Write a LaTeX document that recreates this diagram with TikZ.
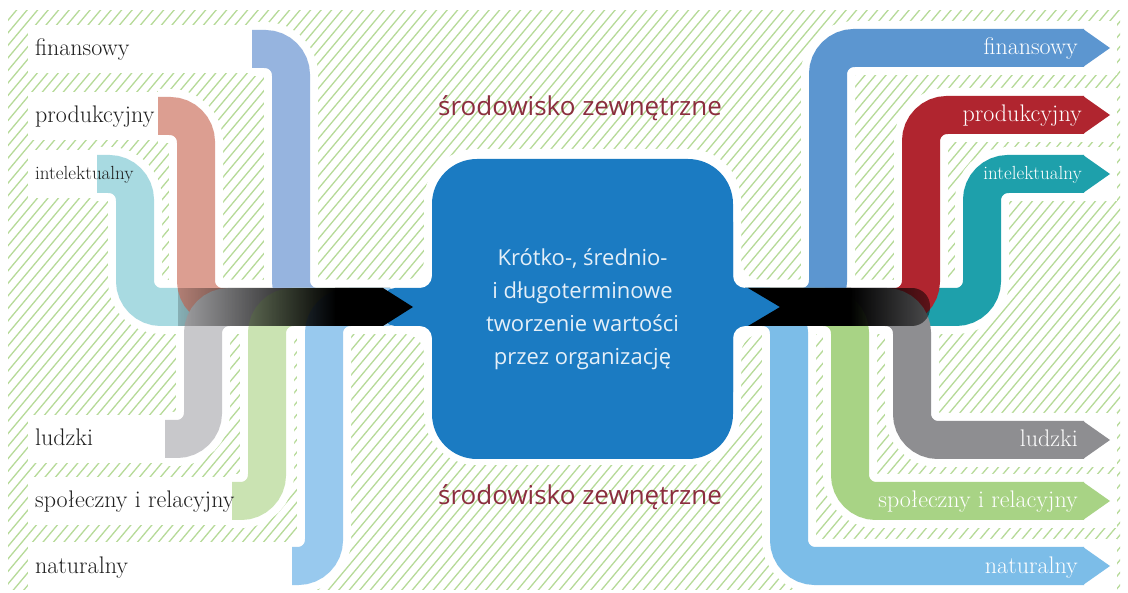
\documentclass[tikz,border=0pt]{standalone}
\usepackage{fontspec}
\newfontfamily\opensans{Open Sans}
\usetikzlibrary{fadings}

\definecolor{hatchgreen}{RGB}{182,218,152}
\definecolor{coreblue}{RGB}{27,123,194}
\definecolor{envred}{RGB}{139,45,62}
\definecolor{finR}{RGB}{92,150,208}
\definecolor{prodR}{RGB}{176,37,47}
\definecolor{intR}{RGB}{30,160,171}
\definecolor{humR}{RGB}{142,142,145}
\definecolor{socR}{RGB}{168,211,133}
\definecolor{natR}{RGB}{124,189,232}
\definecolor{finL}{RGB}{150,180,223}
\definecolor{prodL}{RGB}{220,158,145}
\definecolor{intL}{RGB}{168,218,225}
\definecolor{humL}{RGB}{200,200,203}
\definecolor{socL}{RGB}{202,227,178}
\definecolor{natL}{RGB}{152,201,238}

\begin{document}
\begin{tikzpicture}[x=1pt, y=-1pt,
  halo/.style={draw=white, line width=54pt, rounded corners=26pt},
  band/.style={draw=#1, line width=38pt, rounded corners=26pt},
  lbl/.style={font=\fontsize{24}{28}\selectfont, text=black!88, inner sep=0pt, anchor=base west},
  rlbl/.style={font=\fontsize{24}{28}\selectfont, text=white, inner sep=0pt, anchor=base east},
  envtxt/.style={font=\opensans\fontsize{26}{30}\selectfont, text=envred},
  corebox/.style={fill=coreblue, rounded corners=45pt, minimum width=301pt, minimum height=300pt,
    align=center, text=white!88!coreblue, font=\opensans\fontsize{22}{33}\selectfont}]

\useasboundingbox (0,0) rectangle (1128,593);

% background hatching
\begin{scope}
\clip (8,11) rectangle (1120,589);
\foreach \i in {0,...,160}
  \draw[hatchgreen, line width=1.3pt] (-520+\i*10.5,600) -- ++(503,-600);
\end{scope}

% white boxes and halos
\fill[white] (28,25) rectangle (253,73);
\fill[white] (28,92) rectangle (159,140);
\fill[white] (28,150) rectangle (98,198);
\fill[white] (28,415) rectangle (166,463);
\fill[white] (28,477) rectangle (233,525);
\fill[white] (28,542) rectangle (293,590);

\draw[halo] (252,49) -- (291,49) -- (291,307) -- (390,307);
\draw[halo] (158,116) -- (196,116) -- (196,307) -- (390,307);
\draw[halo] (97,174) -- (135,174) -- (135,307) -- (390,307);
\draw[halo] (165,439) -- (203,439) -- (203,307) -- (390,307);
\draw[halo] (232,501) -- (267,501) -- (267,307) -- (390,307);
\draw[halo] (292,566) -- (324,566) -- (324,307) -- (390,307);

\draw[halo] (745,307) -- (828,307) -- (828,48) -- (1084,48);
\draw[halo] (745,307) -- (921,307) -- (921,115) -- (1084,115);
\draw[halo] (745,307) -- (982,307) -- (982,174) -- (1084,174);
\draw[halo] (745,307) -- (912,307) -- (912,440) -- (1084,440);
\draw[halo] (745,307) -- (850,307) -- (850,501) -- (1084,501);
\draw[halo] (745,307) -- (789,307) -- (789,566) -- (1084,566);
\foreach \y in {48,115,174,440,501,566}
  \fill[white] (1078,\y-27) rectangle (1117,\y+27);

\fill[white, rounded corners=52pt] (424,149) rectangle (741,465);
\fill[white, rounded corners=20pt] (370,280) -- (424,280) -- (424,210) -- (741,210) -- (741,280)
  -- (795,280) -- (795,334) -- (741,334) -- (741,404) -- (424,404) -- (424,334) -- (370,334) -- cycle;

% incoming capitals
\draw[band=intL] (97,174) -- (135,174) -- (135,307) -- (390,307);
\draw[band=prodL] (158,116) -- (196,116) -- (196,307) -- (390,307);
\draw[band=finL] (252,49) -- (291,49) -- (291,307) -- (390,307);
\draw[band=humL] (165,439) -- (203,439) -- (203,307) -- (390,307);
\draw[band=socL] (232,501) -- (267,501) -- (267,307) -- (390,307);
\draw[band=natL] (292,566) -- (324,566) -- (324,307) -- (390,307);

% outgoing capitals
\draw[band=intR] (745,307) -- (982,307) -- (982,174) -- (1084,174);
\draw[band=prodR] (745,307) -- (921,307) -- (921,115) -- (1084,115);
\draw[band=finR] (745,307) -- (828,307) -- (828,48) -- (1084,48);
\draw[band=humR] (745,307) -- (912,307) -- (912,440) -- (1084,440);
\draw[band=socR] (745,307) -- (850,307) -- (850,501) -- (1084,501);
\draw[band=natR] (745,307) -- (789,307) -- (789,566) -- (1084,566);
\fill[finR] (1083,29) -- (1110,48) -- (1083,67) -- cycle;
\fill[prodR] (1083,96) -- (1110,115) -- (1083,134) -- cycle;
\fill[intR] (1083,155) -- (1110,174) -- (1083,193) -- cycle;
\fill[humR] (1083,421) -- (1110,440) -- (1083,459) -- cycle;
\fill[socR] (1083,482) -- (1110,501) -- (1083,520) -- cycle;
\fill[natR] (1083,547) -- (1110,566) -- (1083,585) -- cycle;

% value creation box
\fill[coreblue, rounded corners=12pt] (383,288) -- (432,288) -- (432,210) -- (733,210) -- (733,288)
  -- (782,288) -- (782,326) -- (733,326) -- (733,404) -- (432,404) -- (432,326) -- (383,326) -- cycle;
\node[corebox] (core) at (582.5,309) {Krótko-, średnio-\\i długoterminowe\\tworzenie wartości\\przez organizację};

% black bars
\begin{scope}
\clip (178,288) rectangle (336,326);
\fill[black, path fading=west] (140,288) rectangle (336,326);
\end{scope}
\fill[black] (335,288) -- (383,288) -- (413,307) -- (383,326) -- (335,326) -- cycle;
\fill[black] (748,288) -- (851,288) -- (851,326) -- (748,326) -- (780,307) -- cycle;
\begin{scope}
\clip (850,288) [rounded corners=18pt] -- (930,288) -- (930,326) [sharp corners] -- (850,326) -- cycle;
\fill[black, path fading=east] (850,288) rectangle (1000,326);
\end{scope}

% labels
\node[lbl] (lfin) at (35,56) {finansowy};
\node[lbl] (lprod) at (35,123) {produkcyjny};
\node[lbl, font=\fontsize{19}{22}\selectfont] (lint) at (35,180) {intelektualny};
\node[lbl] (lhum) at (35,446) {ludzki};
\node[lbl] (lsoc) at (35,508) {społeczny i relacyjny};
\node[lbl] (lnat) at (35,573) {naturalny};

\node[rlbl] (rfin) at (1078,55) {finansowy};
\node[rlbl] (rprod) at (1082,122) {produkcyjny};
\node[rlbl, font=\fontsize{19}{22}\selectfont] (rint) at (1082,180) {intelektualny};
\node[rlbl] (rhum) at (1078,447) {ludzki};
\node[rlbl] (rsoc) at (1078,508) {społeczny i relacyjny};
\node[rlbl] (rnat) at (1078,573) {naturalny};

\node[envtxt] (envtop) at (580,108) {środowisko zewnętrzne};
\node[envtxt] (envbot) at (580,497) {środowisko zewnętrzne};

\end{tikzpicture}
\end{document}
